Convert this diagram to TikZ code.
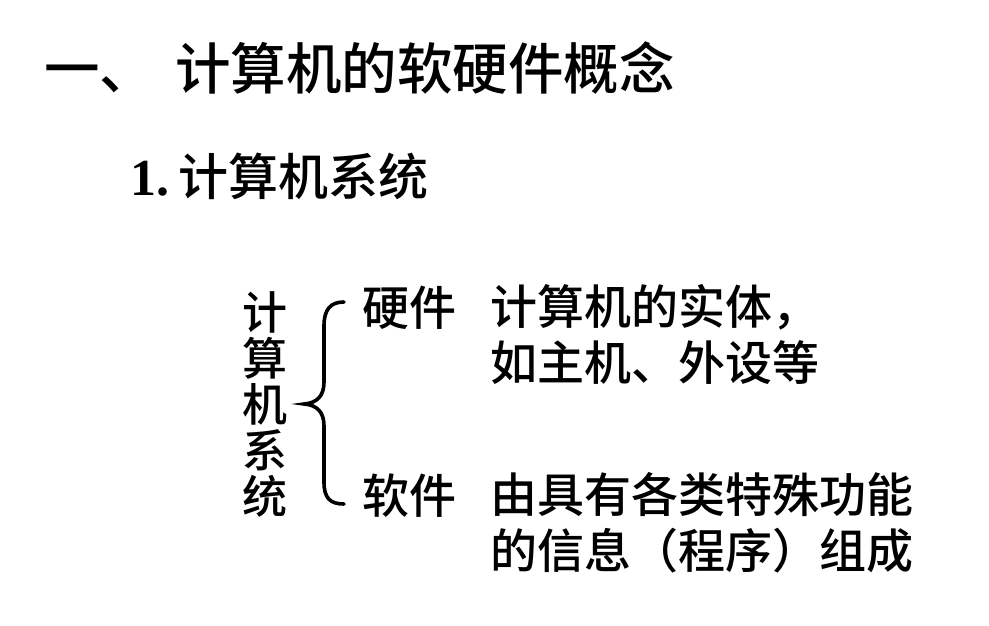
\documentclass[tikz,border=0pt]{standalone}
\usepackage{fontspec}
\setmainfont{Liberation Serif}
\newfontfamily\cjk{Noto Sans CJK SC Medium}

\begin{document}
\begin{tikzpicture}[
    x=1pt, y=-1pt,
    title/.style={font=\cjk\fontsize{55.5}{60}\selectfont,
                  anchor=west, inner sep=0pt},
    subtitle/.style={font=\cjk\fontsize{50}{54}\selectfont,
                  anchor=west, inner sep=0pt},
    item/.style={font=\cjk\fontsize{47}{55.5}\selectfont,
                 anchor=west, inner sep=0pt, align=left},
    column/.style={font=\cjk\fontsize{45}{46}\selectfont,
                   inner sep=0pt, align=center},
    bracket/.style={line width=3.6pt, line cap=round},
]
\useasboundingbox (0,0) rectangle (989,626);

% Headings
\node[title] (head) at (44,68) {一、\hspace{20pt}计算机的软硬件概念};
\node[subtitle] (sub) at (130,176)
     {{\rmfamily\bfseries\fontsize{52}{54}\selectfont 1.}\hspace{9pt}计算机系统};

% Vertical label
\node[column] (sys) at (265,404) {计\\算\\机\\系\\统};

% Brace
\coordinate (btop) at (344,302);
\coordinate (btip) at (304,404);
\coordinate (bbot) at (344,504);
\draw[bracket] (btop) .. controls (330,302) and (324,310) .. (324,326)
      -- (324,382) .. controls (324,396) and (317,403) .. (btip)
      .. controls (317,405) and (324,412) .. (324,426)
      -- (324,482) .. controls (324,498) and (330,504) .. (bbot);

% Branches
\node[item] (hw) at (362,308) {硬件};
\node[item] (sw) at (362,496) {软件};
\node[item, anchor=north west] (hwtext) at (490,308-23.5)
     {计算机的实体，\\如主机、外设等};
\node[item, anchor=north west] (swtext) at (490,496-23.5)
     {由具有各类特殊功能\\的信息（程序）组成};

\end{tikzpicture}
\end{document}
